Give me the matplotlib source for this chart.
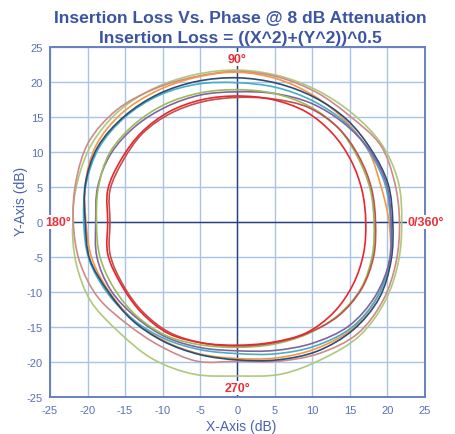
import matplotlib
matplotlib.use('Agg')
import matplotlib.pyplot as plt
from matplotlib.path import Path
from matplotlib.patches import PathPatch
import numpy as np

plt.rcParams['font.family'] = ['Liberation Sans', 'DejaVu Sans']
plt.rcParams['axes.unicode_minus'] = False

# ---- data (radius in dB read at each phase angle) ----
angles_deg = [0, 15, 30, 45, 60, 75, 90, 105, 120, 135, 150, 165,
              180, 195, 210, 225, 240, 255, 270, 285, 300, 315, 330, 345]

r_red_bright = [17.1, 17.2, 17.5, 17.9, 18.2, 18.1, 18.0, 18.1, 18.2, 18.1, 17.9, 17.9,
                17.3, 17.9, 17.9, 18.2, 18.4, 17.9, 17.6, 17.8, 18.3, 18.2, 17.8, 17.4]
r_red = [18.4, 18.5, 18.7, 19.0, 18.9, 18.2, 17.8, 17.8, 17.9, 17.9, 17.6, 17.6,
         17.0, 17.6, 17.7, 18.0, 18.2, 17.9, 17.7, 17.9, 18.4, 19.0, 19.1, 18.8]
r_green = [18.2, 18.3, 18.5, 19.0, 19.1, 19.0, 18.9, 19.1, 19.4, 19.6, 19.7, 19.2,
           18.8, 19.0, 19.0, 19.0, 18.8, 18.2, 17.9, 18.1, 18.5, 18.9, 19.0, 18.6]
r_purple = [20.5, 20.6, 20.4, 20.0, 19.6, 19.0, 18.6, 18.8, 19.0, 19.3, 19.5, 19.3,
            18.9, 19.4, 19.5, 19.2, 19.0, 18.6, 18.4, 19.0, 20.0, 21.0, 21.2, 21.0]
r_cyan = [20.4, 20.4, 20.25, 20.2, 20.0, 19.9, 19.9, 20.4, 20.9, 21.2, 21.3, 20.9,
          20.5, 20.5, 20.1, 19.7, 19.3, 18.9, 18.8, 19.5, 20.5, 21.4, 21.5, 21.0]
r_orange = [20.2, 19.8, 20.2, 20.4, 20.7, 21.1, 21.4, 21.4, 21.6, 21.9, 21.8, 21.0,
            20.2, 20.1, 19.8, 19.7, 19.6, 19.5, 19.5, 20.1, 20.9, 21.6, 21.5, 21.0]
r_navy = [20.7, 20.8, 20.6, 20.65, 20.55, 20.5, 20.6, 20.8, 21.1, 21.35, 21.5, 21.0,
          20.3, 20.4, 19.9, 19.85, 19.7, 19.6, 19.7, 20.4, 21.3, 21.8, 21.8, 21.2]
r_rose = [21.6, 21.7, 22.0, 21.3, 21.3, 21.4, 21.5, 21.5, 22.0, 22.7, 22.9, 22.3,
          21.9, 21.8, 21.5, 20.7, 20.5, 20.6, 19.9, 20.6, 21.7, 22.6, 22.4, 21.9]
r_lightgreen = [21.9, 22.2, 22.2, 21.8, 21.6, 21.6, 21.7, 21.8, 22.1, 22.4, 22.4, 22.1,
                22.0, 22.3, 22.6, 22.3, 22.6, 22.5, 22.0, 22.5, 22.6, 23.0, 22.7, 22.2]

series = [
    (r_lightgreen, '#afc97a'),
    (r_rose, '#cd8a88'),
    (r_orange, '#f79646'),
    (r_cyan, '#4bacc6'),
    (r_navy, '#2c4d75'),
    (r_purple, '#8064a2'),
    (r_green, '#9bbb59'),
    (r_red, '#c0504d'),
    (r_red_bright, '#e8262c'),
]

tick_values = [-25, -20, -15, -10, -5, 0, 5, 10, 15, 20, 25]
tick_labels = ['-25', '-20', '-15', '-10', '-5', '0', '5', '10', '15', '20', '25']

title_line1 = 'Insertion Loss Vs. Phase @ 8 dB Attenuation'
title_line2 = 'Insertion Loss = ((X^2)+(Y^2))^0.5'


def smooth_closed_path(xs, ys):
    """Closed Catmull-Rom curve through the points, as cubic Bezier path."""
    pts = np.column_stack([xs, ys])
    n = len(pts)
    verts = [pts[0]]
    codes = [Path.MOVETO]
    for i in range(n):
        p0 = pts[(i - 1) % n]
        p1 = pts[i]
        p2 = pts[(i + 1) % n]
        p3 = pts[(i + 2) % n]
        c1 = p1 + (p2 - p0) / 6.0
        c2 = p2 - (p3 - p1) / 6.0
        verts += [c1, c2, p2]
        codes += [Path.CURVE4] * 3
    return Path(np.array(verts), codes)


# ---- figure ----
W, H = 456, 435
fig = plt.figure(figsize=(W / 100, H / 100), dpi=100)
ax = fig.add_axes([50 / W, 1 - 398 / H, 375 / W, 350 / H])

theta = np.deg2rad(angles_deg)
for r, color in series:
    rr = np.array(r)
    path = smooth_closed_path(rr * np.cos(theta), rr * np.sin(theta))
    ax.add_patch(PathPatch(path, facecolor='none', edgecolor=color,
                           lw=1.2, zorder=3))

ax.set_xlim(-25, 25)
ax.set_ylim(-25, 25)
ax.set_xticks(tick_values)
ax.set_xticklabels(tick_labels)
ax.set_yticks(tick_values)
ax.set_yticklabels(tick_labels)
tick_color = '#5870b6'
ax.tick_params(length=0, colors=tick_color, labelsize=8)
ax.tick_params(axis='x', pad=6)
ax.tick_params(axis='y', pad=5)
ax.grid(True, color='#a8c3e6', lw=1.0)
ax.set_axisbelow(True)
for s in ax.spines.values():
    s.set_color('#6780c0')
    s.set_linewidth(1.4)

ax.axhline(0, color='#2a3c82', lw=1.0, zorder=2)
ax.axvline(0, color='#2a3c82', lw=1.0, zorder=2)

lab_kw = dict(color='#e8303a', fontsize=9, fontweight='bold', zorder=6,
              clip_on=False, bbox=dict(facecolor='white', edgecolor='none', pad=0.5))
ax.text(0, 23.3, '90°', ha='center', va='center', **lab_kw)
ax.text(0, -23.7, '270°', ha='center', va='center', **lab_kw)
ax.text(-25.6, 0, '180°', ha='left', va='center', **lab_kw)
ax.text(22.7, 0, '0/360°', ha='left', va='center', **lab_kw)

title_color = '#3b54a3'
fig.text(240 / W, 1 - 23.3 / H, title_line1, ha='center', va='baseline',
         fontsize=12.6, fontweight='bold', color=title_color)
fig.text(240 / W, 1 - 42.7 / H, title_line2, ha='center', va='baseline',
         fontsize=12.6, fontweight='bold', color=title_color)

fig.text(241 / W, 1 - 427 / H, 'X-Axis (dB)', ha='center', va='center',
         fontsize=10, color='#4a62ad')
fig.text(21 / W, 1 - 201 / H, 'Y-Axis (dB)', ha='center', va='center',
         rotation=90, fontsize=10, color='#4a62ad')

fig.savefig('out.png', dpi=100)
